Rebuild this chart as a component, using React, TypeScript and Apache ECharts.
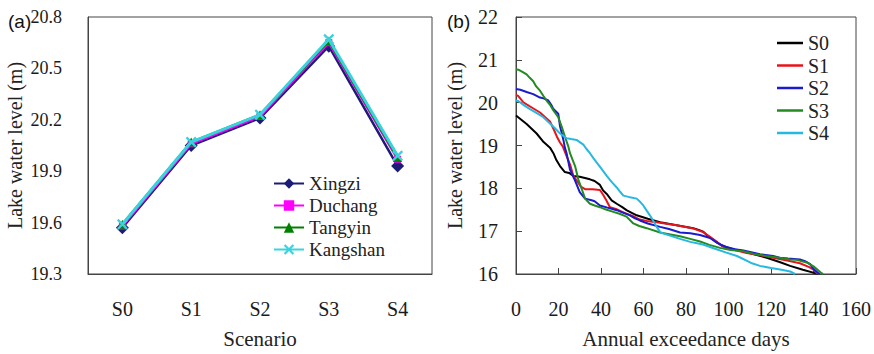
import React, { useEffect, useRef } from "react";
import * as echarts from "echarts";

const SERIF = "Liberation Serif";
const SANS = "Liberation Sans";

// Panel (a)
const scenarios = ["S0", "S1", "S2", "S3", "S4"];
const leftTicks = [19.3, 19.6, 19.9, 20.2, 20.5, 20.8];
const xingzi = [19.57, 20.05, 20.21, 20.63, 19.93];
const duchang = [19.58, 20.06, 20.22, 20.65, 19.97];
const tangyin = [19.59, 20.07, 20.23, 20.66, 19.98];
const kangshan = [19.59, 20.07, 20.23, 20.67, 19.99];

// Panel (b): [annual exceedance days, lake water level]
const s0Curve = [
  [0, 19.7], [5, 19.5], [9.7, 19.28], [13, 19.08], [16, 18.95], [17.6, 18.82], [19, 18.66],
  [20.7, 18.52], [23, 18.38], [25, 18.36], [27, 18.29], [30, 18.27], [34.8, 18.21], [37, 18.17],
  [39.5, 18.08], [41, 17.95], [42.7, 17.87], [45, 17.72], [47.4, 17.64], [50, 17.56], [52, 17.49],
  [54, 17.44], [56.8, 17.37], [62, 17.29], [67.8, 17.21], [75.6, 17.14], [83.4, 17.07], [86, 17.03],
  [88, 16.99], [90, 16.9], [92.8, 16.8], [95, 16.72], [97.6, 16.65], [102, 16.58], [107, 16.53],
  [112, 16.46], [118, 16.38], [124, 16.28], [129, 16.19], [135, 16.1], [140.7, 16.02], [142, 16.0],
];
const s1Curve = [
  [0, 20.18], [1, 20.16], [3.4, 20.01], [5, 19.96], [8, 19.87], [11.3, 19.77], [14, 19.65],
  [16, 19.56], [18, 19.35], [19.5, 19.18], [20.7, 19.07], [22, 18.98], [23.8, 18.75], [25.5, 18.55],
  [27, 18.29], [29, 18.15], [30.5, 18.04], [32.5, 17.98], [36, 17.98], [39.5, 17.96], [41, 17.85],
  [42.5, 17.72], [44.2, 17.56], [47, 17.52], [50, 17.45], [52, 17.41], [56, 17.33], [58.3, 17.27],
  [61.5, 17.24], [67, 17.2], [75.6, 17.14], [83.5, 17.06], [88, 16.98], [91, 16.88], [94.4, 16.76],
  [97, 16.65], [99, 16.6], [104, 16.55], [108.5, 16.49], [115, 16.44], [121, 16.38], [127, 16.32],
  [133.6, 16.25], [138, 16.16], [140, 16.1], [142, 16.0],
];
const s2Curve = [
  [0, 20.32], [2, 20.3], [5, 20.25], [8.1, 20.2], [11.3, 20.12], [13, 20.1], [15.2, 20.05],
  [16.8, 19.93], [17.6, 19.85], [19.9, 19.74], [20.7, 19.45], [21.5, 19.3], [22.3, 19.13], [23, 18.95],
  [23.8, 18.82], [25.4, 18.44], [27.8, 18.18], [30, 17.91], [32.5, 17.76], [35.6, 17.72], [37, 17.7],
  [39.5, 17.6], [43, 17.55], [47.4, 17.49], [50, 17.44], [53.6, 17.37], [56, 17.3], [58.3, 17.25],
  [62, 17.18], [67.8, 17.1], [72, 17.05], [77.2, 16.97], [82, 16.95], [86.6, 16.91], [91.3, 16.84],
  [94, 16.75], [96, 16.69], [99, 16.63], [103, 16.58], [107, 16.55], [114.8, 16.46], [121, 16.42],
  [124, 16.38], [128, 16.36], [133.6, 16.34], [136, 16.3], [138.4, 16.23], [140, 16.12], [142.3, 16.02],
  [143, 16.0],
];
const s3Curve = [
  [0, 20.78], [1.1, 20.77], [3, 20.72], [5, 20.66], [6.5, 20.58], [8.1, 20.5], [9.5, 20.38],
  [11.3, 20.28], [13, 20.15], [14.4, 20.05], [16, 19.95], [17.6, 19.82], [19.9, 19.66], [21.5, 19.44],
  [23, 19.21], [24.6, 18.98], [25.4, 18.82], [27.8, 18.52], [29.3, 18.21], [30.9, 17.99], [32.5, 17.76],
  [34.8, 17.64], [37, 17.6], [39.5, 17.56], [42, 17.51], [45.8, 17.45], [49, 17.4], [52, 17.34],
  [55.2, 17.18], [58, 17.12], [61.5, 17.07], [67.8, 16.97], [72, 16.93], [77.2, 16.88], [82, 16.82],
  [86.6, 16.76], [91, 16.68], [96, 16.61], [101, 16.56], [107, 16.53], [112, 16.47], [118, 16.42],
  [124, 16.38], [129, 16.34], [132, 16.33], [136.8, 16.27], [140, 16.18], [143.8, 16.02], [144.5, 16.0],
];
const s4Curve = [
  [0, 20.05], [1.1, 20.04], [4, 19.93], [6.6, 19.85], [10, 19.75], [12.9, 19.66], [15, 19.56],
  [17.6, 19.44], [20.7, 19.28], [23.8, 19.17], [26, 19.15], [28.5, 19.13], [30, 19.08], [31.7, 19.02],
  [33, 18.93], [34.8, 18.82], [36.5, 18.7], [38, 18.6], [40, 18.47], [42.7, 18.29], [45, 18.15],
  [47.4, 18.02], [49, 17.92], [50.5, 17.83], [53, 17.8], [56.8, 17.76], [58.5, 17.68], [59.9, 17.6],
  [61.5, 17.48], [63, 17.37], [64.5, 17.25], [66.2, 17.1], [68, 16.97], [71, 16.92], [77.2, 16.82],
  [82, 16.75], [88, 16.69], [93, 16.6], [99, 16.5], [104, 16.42], [108.5, 16.31], [111, 16.25],
  [114.8, 16.19], [120, 16.14], [125, 16.1], [129, 16.06], [131.3, 16.0],
];

const stationNames = ["Xingzi", "Duchang", "Tangyin", "Kangshan"];
const scenarioNames = ["S0", "S1", "S2", "S3", "S4"];

const X_SYMBOL =
  "path://M0,1.5L1.5,0L5,3.5L8.5,0L10,1.5L6.5,5L10,8.5L8.5,10L5,6.5L1.5,10L0,8.5L3.5,5Z";

export default function App() {
  const ref = useRef<HTMLDivElement>(null);

  useEffect(() => {
    if (!ref.current) return;
    const chart = echarts.init(ref.current, undefined, { renderer: "svg" });
    const axisColor = "#444";
    const labelColor = "#1a1a1a";

    const stationColors = ["#1c1c78", "#ff00ff", "#008000", "#38d3dc"];
    const stationSymbols = ["diamond", "rect", "triangle", X_SYMBOL];
    const stationSizes = [13, 7, 9, 11];
    const stationData = [xingzi, duchang, tangyin, kangshan];

    const curveColors = ["#000000", "#e8141c", "#1a1ad0", "#228b22", "#26b8e0"];
    const curves = [s0Curve, s1Curve, s2Curve, s3Curve, s4Curve];

    const option: any = {
      animation: false,
      backgroundColor: "#ffffff",
      textStyle: { fontFamily: SERIF },
      grid: [
        { left: 88, top: 17, width: 344, height: 263, show: true, borderColor: axisColor, borderWidth: 1 },
        { left: 516, top: 17, width: 340, height: 263, show: true, borderColor: axisColor, borderWidth: 1 },
      ],
      xAxis: [
        {
          gridIndex: 0,
          type: "category",
          data: scenarios,
          boundaryGap: true,
          axisLine: { lineStyle: { color: axisColor, width: 1 } },
          axisTick: { inside: true, length: 6, lineStyle: { color: axisColor } },
          axisLabel: { fontSize: 20, color: labelColor, margin: 25, fontFamily: SERIF },
          name: "Scenario",
          nameLocation: "middle",
          nameGap: 54,
          nameTextStyle: { fontSize: 21, color: "#222", fontFamily: SERIF },
        },
        {
          gridIndex: 1,
          type: "value",
          min: 0,
          max: 160,
          interval: 20,
          axisLine: { lineStyle: { color: axisColor, width: 1 } },
          axisTick: { inside: true, length: 6, lineStyle: { color: axisColor } },
          axisLabel: { fontSize: 20, color: labelColor, margin: 25, fontFamily: SERIF },
          splitLine: { show: false },
          name: "Annual exceedance days",
          nameLocation: "middle",
          nameGap: 54,
          nameTextStyle: { fontSize: 21, color: "#222", fontFamily: SERIF },
        },
      ],
      yAxis: [
        {
          gridIndex: 0,
          type: "value",
          min: 19.3,
          max: 20.8,
          axisLine: { show: true, lineStyle: { color: axisColor, width: 1 } },
          axisTick: { show: false },
          splitLine: { show: false },
          axisLabel: {
            customValues: leftTicks,
            formatter: (v: number) => v.toFixed(1),
            fontSize: 18,
            color: labelColor,
            margin: 26,
            fontFamily: SERIF,
          },
          name: "Lake water level (m)",
          nameLocation: "middle",
          nameGap: 63,
          nameTextStyle: { fontSize: 20, color: "#222", fontFamily: SERIF },
        },
        {
          gridIndex: 1,
          type: "value",
          min: 16,
          max: 22,
          interval: 1,
          axisLine: { show: true, lineStyle: { color: axisColor, width: 1 } },
          axisTick: { inside: true, length: 6, lineStyle: { color: axisColor } },
          splitLine: { show: false },
          axisLabel: { fontSize: 20, color: labelColor, margin: 18, fontFamily: SERIF },
          name: "Lake water level (m)",
          nameLocation: "middle",
          nameGap: 51,
          nameTextStyle: { fontSize: 20, color: "#222", fontFamily: SERIF },
        },
      ],
      legend: [
        {
          data: stationNames,
          orient: "vertical",
          left: 268,
          top: 169,
          itemWidth: 30,
          itemHeight: 13,
          itemGap: 3,
          textStyle: { fontSize: 19, lineHeight: 18, color: "#222", fontFamily: SERIF },
        },
        {
          data: scenarioNames.map((name) => ({ name, icon: "rect" })),
          orient: "vertical",
          left: 772,
          top: 28,
          itemWidth: 26,
          itemHeight: 2.5,
          itemGap: 2.5,
          textStyle: { fontSize: 20, lineHeight: 20, color: "#222", fontFamily: SERIF },
        },
      ],
      graphic: [
        { type: "text", left: 8, top: 12, style: { text: "(a)", fontSize: 19, fontFamily: SANS, fill: "#111" } },
        { type: "text", left: 447, top: 12, style: { text: "(b)", fontSize: 19, fontFamily: SANS, fill: "#111" } },
      ],
      series: [
        ...stationNames.map((name, i) => ({
          name,
          type: "line",
          xAxisIndex: 0,
          yAxisIndex: 0,
          data: stationData[i],
          symbol: stationSymbols[i],
          symbolSize: stationSizes[i],
          lineStyle: { color: stationColors[i], width: i === 3 ? 3 : 2.5 },
          itemStyle: { color: stationColors[i] },
          z: 2 + i,
        })),
        ...scenarioNames.map((name, i) => ({
          name,
          type: "line",
          xAxisIndex: 1,
          yAxisIndex: 1,
          data: curves[i],
          symbol: "none",
          lineStyle: { color: curveColors[i], width: 2 },
          itemStyle: { color: curveColors[i] },
          z: 2 + i,
        })),
      ],
    };

    chart.setOption(option);
    return () => chart.dispose();
  }, []);

  return (
    <div
      ref={ref}
      style={{ position: "fixed", left: 0, top: 0, width: 874, height: 354, background: "#fff" }}
    />
  );
}
